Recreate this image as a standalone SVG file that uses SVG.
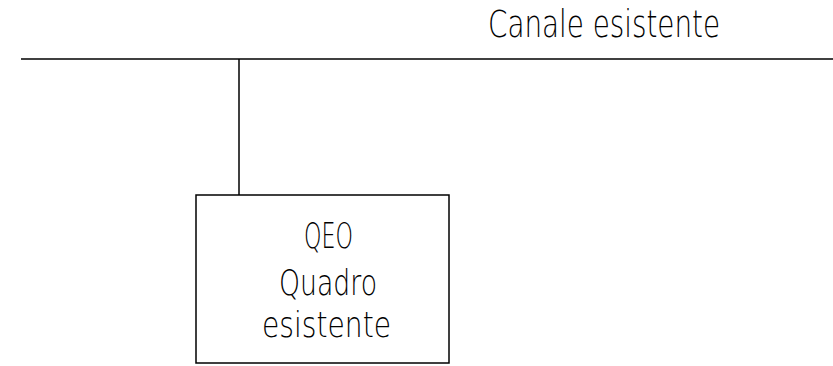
<svg xmlns="http://www.w3.org/2000/svg" width="833" height="366" viewBox="0 0 833 366">
<style>
.ln{stroke:#000;stroke-width:1.5;fill:none}
.t{font-family:"DejaVu Sans","Liberation Sans",sans-serif;font-weight:200;font-size:35px;fill:#000;text-anchor:start}
</style>
<rect width="833" height="366" fill="#fff"/>
<g id="canale">
<line class="ln" x1="21" y1="59" x2="833" y2="59"/>
<text class="t" x="488" y="37" style="font-size:37px" textLength="232" lengthAdjust="spacingAndGlyphs">Canale  esistente</text>
</g>
<g id="connectors">
<line class="ln" x1="239" y1="59" x2="239" y2="195"/>
</g>
<g id="qeo">
<rect class="ln" x="196" y="195" width="253" height="168"/>
<text class="t" x="304" y="248" textLength="49" lengthAdjust="spacingAndGlyphs">QEO</text>
<text class="t" x="279" y="295" textLength="98" lengthAdjust="spacingAndGlyphs">Quadro</text>
<text class="t" x="262" y="337" textLength="129" lengthAdjust="spacingAndGlyphs">esistente</text>
</g>
</svg>
